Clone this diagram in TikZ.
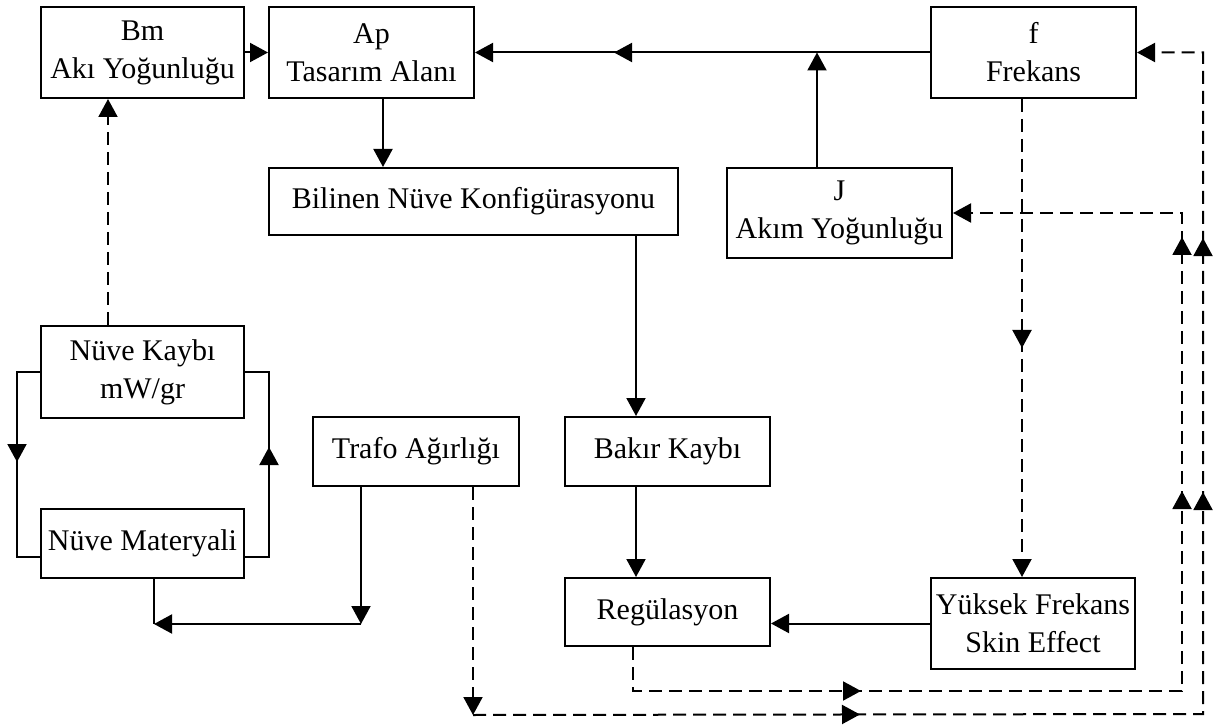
\documentclass[tikz,border=0pt]{standalone}
\usepackage{fontspec}
\setmainfont{Liberation Serif}
\usetikzlibrary{arrows.meta,calc,decorations.markings,positioning}

\tikzset{/pgf/decoration/tipat/.style={mark=at position #1 with {\arrow{>}}}}

\begin{document}
\begin{tikzpicture}[x=0.5pt,y=-0.5pt,
    >={Triangle[length=9pt,width=9.5pt]},
    box/.style 2 args={draw,line width=1pt,align=center,inner sep=0pt,
        minimum width=#1*0.5pt,minimum height=#2*0.5pt,
        font=\fontsize{15}{19}\selectfont},
    line/.style={line width=1pt},
    dline/.style={line width=1pt,dash pattern=on 6.5pt off 3.5pt},
    mid/.style={postaction={decorate},decoration={markings,#1}}]
    \useasboundingbox (0,0) rectangle (1216,727);

    \node[box={203}{91}] (bm) at (142.5,52.5) {Bm\\Akı Yoğunluğu};
    \node[box={205}{91}] (ap) at (371.5,52.5) {Ap\\Tasarım Alanı};
    \node[box={205}{91}] (fnode) at (1033.5,52.5) {f\\Frekans};
    \node[box={409}{67}] (bilinen) at (473.5,201.5) {Bilinen Nüve Konfigürasyonu};
    \node[box={225}{90}] (jnode) at (839.5,213) {J\\Akım Yoğunluğu};
    \node[box={203}{92}] (kayip) at (142.5,372) {Nüve Kaybı\\mW/gr};
    \node[box={203}{69}] (materyal) at (142.5,543.5) {Nüve Materyali};
    \node[box={206}{69}] (trafo) at (416,451.5) {Trafo Ağırlığı};
    \node[box={205}{69}] (bakir) at (667.5,451.5) {Bakır Kaybı};
    \node[box={205}{68}] (reg) at (667.5,612) {Regülasyon};
    \node[box={204}{91}] (yuksek) at (1033,623.5) {Yüksek Frekans\\Skin Effect};

    % solid connectors
    \draw[line,->] (bm.east) -- (ap.west);
    \draw[line,->,mid={tipat=158pt}] (fnode.west) -- (ap.east);
    \coordinate (jt) at ($(jnode.north)+(-22.5,0)$);
    \draw[line,->] (jt) -- (jt |- fnode.west);
    \coordinate (apb) at ($(ap.south)+(11.5,0)$);
    \draw[line,->] (apb) -- (apb |- bilinen.north);
    \coordinate (bkt) at ($(bakir.north)+(-31.5,0)$);
    \draw[line,->] (bkt |- bilinen.south) -- (bkt);
    \draw[line,->] (bkt |- bakir.south) -- (bkt |- reg.north);
    \draw[line,->] (yuksek.west) -- (yuksek.west -| reg.east);

    % core loop
    \coordinate (kt) at ($(kayip.north)+(-34.5,0)$);
    \draw[dline,->] (kt) -- (kt |- bm.south);
    \draw[line,mid={tipat=56.5pt}] (kayip.west) -- ++(-23,0) |- ($(materyal.west)+(0,13.5)$);
    \draw[line,mid={tipat=67pt}] ($(materyal.east)+(0,13.5)$) -- ++(24,0) |- (kayip.east);

    % weight
    \coordinate (ms) at ($(materyal.south)+(11.5,0)$);
    \coordinate (jl) at ($(ms)+(0,45)$);
    \coordinate (ts) at ($(trafo.south)+(-55,0)$);
    \draw[line] (ms) -- (jl);
    \draw[line,->] (ts) -- (ts |- jl);
    \draw[line,->] (ts |- jl) -- (jl);

    % dashed feedback
    \coordinate (fs) at ($(fnode.south)+(-11.5,0)$);
    \draw[dline,->,mid={tipat=124.5pt}] (fs) -- (fs |- yuksek.north);
    \coordinate (td) at ($(trafo.south)+(57,0)$);
    \coordinate (tl) at ($(td)+(0,228)$);
    \coordinate (tr) at (1203,714);
    \draw[dline,->] (td) -- (tl);
    \draw[dline,->,mid={tipat=193.5pt,tipat=476pt,tipat=603pt}] (tl) -- (tr) |- (fnode.east);
    \coordinate (rd) at ($(reg.south)+(-34.5,0)$);
    \coordinate (rr) at (1182,691);
    \draw[dline,->,mid={tipat=136pt,tipat=396.5pt,tipat=523.5pt}] (rd) |- (rr) |- (jnode.east);
\end{tikzpicture}
\end{document}
